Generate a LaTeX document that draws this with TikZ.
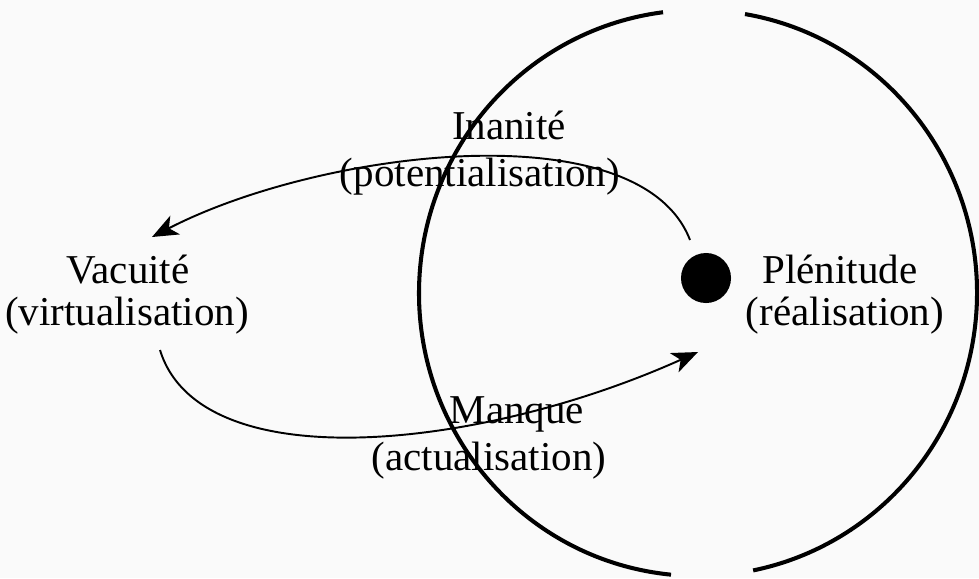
\documentclass[tikz,border=0pt]{standalone}
\usepackage{fontspec}
\setmainfont{Liberation Serif}
\usetikzlibrary{arrows.meta}
\begin{document}
\begin{tikzpicture}[x=0.01cm,y=-0.01cm,
  lbl/.style={anchor=base,inner sep=0pt,font=\fontsize{11.66pt}{14pt}\selectfont},
  conn/.style={line width=0.55pt,-{Stealth[length=0.26cm,width=0.21cm,inset=0.07cm]}},
  ring/.style={line width=1.15pt}]
\fill[white!98!black] (0,0) rectangle (979,578);
\useasboundingbox (0,0) rectangle (979,578);
% large circle with gaps at top and bottom
\draw[ring] (698,293) ++(-80.3:279 and 283) arc[start angle=-80.3,end angle=78.6,x radius=279,y radius=283];
\draw[ring] (698,293) ++(95.55:279 and 283) arc[start angle=95.55,end angle=262.8,x radius=279,y radius=283];
% dot
\node[circle,fill=black,inner sep=0pt,minimum width=0.47cm,minimum height=0.5cm] (dot) at (706,278) {};
% labels
\node[lbl] (vac1) at (128,283) {Vacuité};
\node[lbl] (vac2) at (127,325) {(virtualisation)};
\node[lbl] (ple1) at (840,283) {Plénitude};
\node[lbl] (ple2) at (845,325) {(réalisation)};
\node[lbl] (ina1) at (509,139) {Inanité};
\node[lbl] (ina2) at (480,186) {(potentialisation)};
\node[lbl] (man1) at (517,423) {Manque};
\node[lbl] (man2) at (489,470) {(actualisation)};
% connector end points
\coordinate (upS) at (690,240);
\coordinate (upE) at (152,237);
\coordinate (loS) at (160,350);
\coordinate (loE) at (698,352);
\draw[conn] (upS) .. controls (640,110) and (320,150) .. (upE);
\draw[conn] (loS) .. controls (200,480) and (480,450) .. (loE);
\end{tikzpicture}
\end{document}
